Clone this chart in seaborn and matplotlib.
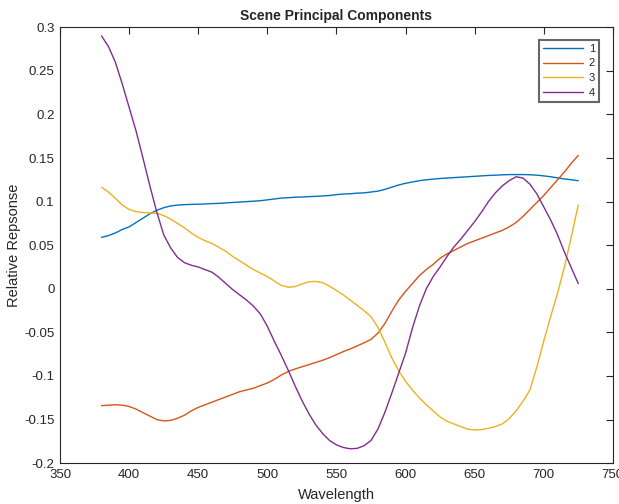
import numpy as np
import pandas as pd
import matplotlib
matplotlib.use("Agg")
import matplotlib.pyplot as plt
import seaborn as sns
from matplotlib.ticker import FuncFormatter

wavelength = list(range(380, 730, 5))

pc1 = [0.059, 0.061, 0.064, 0.068, 0.071, 0.076, 0.081, 0.086, 0.090, 0.093,
       0.095, 0.096, 0.0965, 0.0968, 0.097, 0.0973, 0.0977, 0.098, 0.0985, 0.099,
       0.0995, 0.100, 0.1005, 0.101, 0.102, 0.103, 0.104, 0.1045, 0.105, 0.1053,
       0.1057, 0.106, 0.1065, 0.107, 0.108, 0.1087, 0.109, 0.1097, 0.110, 0.111,
       0.112, 0.114, 0.1165, 0.119, 0.121, 0.1225, 0.124, 0.125, 0.1258, 0.1265,
       0.127, 0.1275, 0.128, 0.1285, 0.129, 0.1295, 0.130, 0.1303, 0.1307, 0.131,
       0.131, 0.131, 0.1308, 0.1303, 0.1295, 0.1285, 0.1272, 0.126, 0.125, 0.124]

pc2 = [-0.134, -0.1335, -0.133, -0.1335, -0.135, -0.138, -0.142, -0.146, -0.150, -0.1515,
       -0.151, -0.1485, -0.145, -0.140, -0.136, -0.133, -0.130, -0.127, -0.124, -0.121,
       -0.118, -0.116, -0.114, -0.111, -0.108, -0.104, -0.099, -0.095, -0.092, -0.0895,
       -0.087, -0.0845, -0.082, -0.079, -0.0755, -0.072, -0.069, -0.0655, -0.062, -0.058,
       -0.051, -0.040, -0.026, -0.013, -0.003, 0.006, 0.015, 0.022, 0.028, 0.035,
       0.040, 0.044, 0.048, 0.052, 0.055, 0.058, 0.061, 0.064, 0.067, 0.071,
       0.076, 0.083, 0.091, 0.099, 0.107, 0.116, 0.125, 0.134, 0.144, 0.153]

pc3 = [0.1165, 0.111, 0.104, 0.096, 0.091, 0.0885, 0.0875, 0.087, 0.0865, 0.084,
       0.080, 0.075, 0.070, 0.064, 0.059, 0.055, 0.052, 0.0475, 0.043, 0.037,
       0.032, 0.027, 0.022, 0.018, 0.014, 0.009, 0.004, 0.0018, 0.0025, 0.0055,
       0.008, 0.0085, 0.007, 0.003, -0.002, -0.007, -0.013, -0.019, -0.025, -0.032,
       -0.044, -0.061, -0.079, -0.094, -0.106, -0.116, -0.125, -0.133, -0.140, -0.147,
       -0.152, -0.155, -0.158, -0.161, -0.162, -0.1615, -0.160, -0.158, -0.155, -0.149,
       -0.140, -0.129, -0.116, -0.090, -0.060, -0.032, -0.005, 0.025, 0.060, 0.096]

pc4 = [0.290, 0.278, 0.260, 0.235, 0.208, 0.181, 0.150, 0.118, 0.088, 0.062,
       0.047, 0.036, 0.030, 0.027, 0.025, 0.022, 0.019, 0.013, 0.006, -0.001,
       -0.007, -0.013, -0.020, -0.029, -0.043, -0.060, -0.076, -0.093, -0.111, -0.128,
       -0.143, -0.156, -0.166, -0.174, -0.179, -0.182, -0.1835, -0.183, -0.180, -0.174,
       -0.161, -0.142, -0.120, -0.097, -0.074, -0.045, -0.020, 0.000, 0.014, 0.025,
       0.037, 0.048, 0.057, 0.067, 0.077, 0.088, 0.100, 0.110, 0.118, 0.124,
       0.1285, 0.127, 0.120, 0.109, 0.094, 0.079, 0.062, 0.042, 0.024, 0.006]

series_names = ["1", "2", "3", "4"]
colors = ["#0072BD", "#D95319", "#EDB120", "#7E2F8E"]

df = pd.DataFrame({
    "Wavelength": wavelength * 4,
    "Value": pc1 + pc2 + pc3 + pc4,
    "Component": sum([[n] * len(wavelength) for n in series_names], []),
})

sns.set_style("white")
plt.rcParams["font.family"] = ["Liberation Sans", "DejaVu Sans"]

fig = plt.figure(figsize=(6.19, 5.04), dpi=100)
ax = fig.add_axes([0.097, 0.081, 0.893, 0.865])

sns.lineplot(data=df, x="Wavelength", y="Value", hue="Component",
             palette=colors, linewidth=1.0, ax=ax, legend=True)

ax.set_xlim(350, 750)
ax.set_ylim(-0.2, 0.3)
ax.set_xticks(np.arange(350, 751, 50))
ax.set_yticks(np.arange(-0.2, 0.3001, 0.05))


def yfmt(v, p):
    r = round(v, 3) + 0.0
    if abs(r) < 1e-9:
        return "0"
    return f"{r:g}"


ax.yaxis.set_major_formatter(FuncFormatter(yfmt))

tick_col = "#262626"
for s in ax.spines.values():
    s.set_visible(True)
    s.set_color(tick_col)
    s.set_linewidth(0.8)
ax.tick_params(direction="in", length=5, width=0.8, colors=tick_col,
               labelsize=9.5, top=True, right=True, labeltop=False, labelright=False,
               pad=4)

ax.set_xlabel("Wavelength", fontsize=10.5, color=tick_col, labelpad=5)
ax.set_ylabel("Relative Repsonse", fontsize=10.5, color=tick_col, labelpad=2)
ax.set_title("Scene Principal Components", fontsize=10, fontweight="bold", pad=5)

leg = ax.legend(loc="upper right", bbox_to_anchor=(0.9747, 0.971), fontsize=8,
                handlelength=3.6, handletextpad=0.5, borderpad=0.35,
                labelspacing=0.42, frameon=True, fancybox=False, borderaxespad=0)
leg.get_frame().set_edgecolor("#404040")
leg.get_frame().set_linewidth(1.5)
for line in leg.get_lines():
    line.set_linewidth(1.0)

fig.savefig("out.png", dpi=100)
